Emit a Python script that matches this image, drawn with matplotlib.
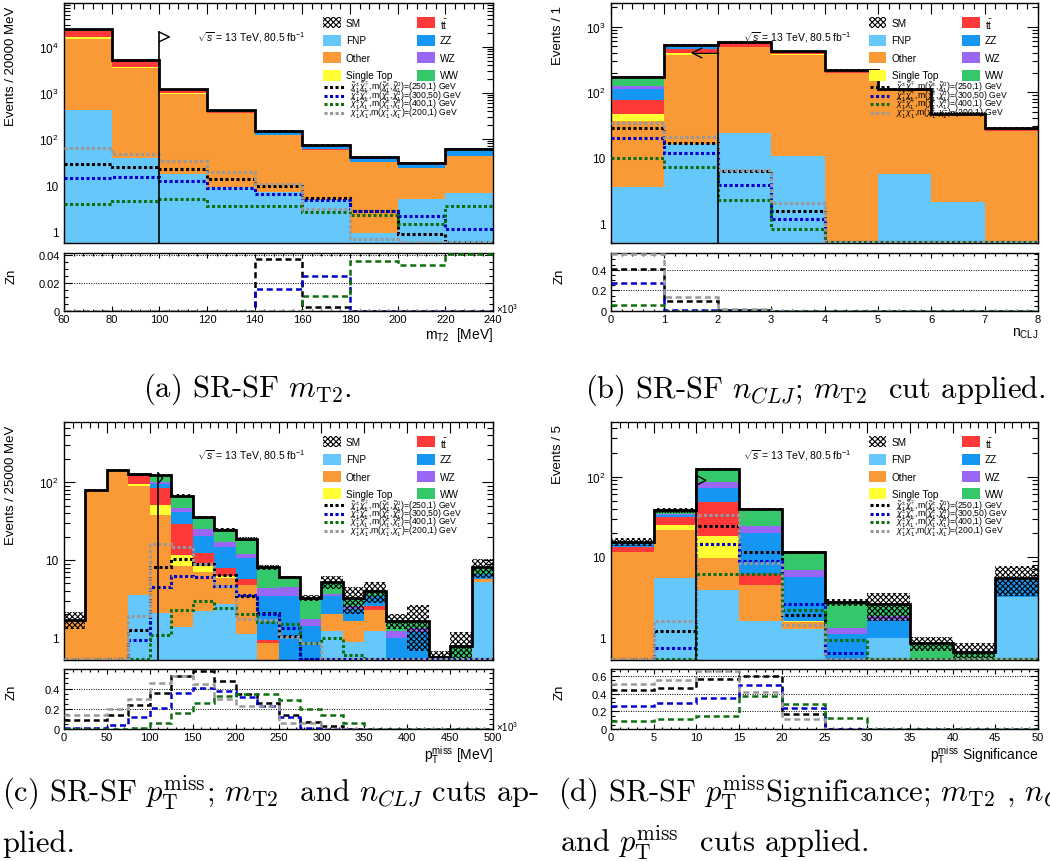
import numpy as np
import matplotlib
matplotlib.use('Agg')
import matplotlib.pyplot as plt
from matplotlib.patches import Rectangle
from matplotlib.lines import Line2D
from matplotlib.ticker import (MultipleLocator, LogLocator, FuncFormatter,
                               NullFormatter, AutoMinorLocator)

plt.rcParams['font.family'] = ['Liberation Sans', 'DejaVu Sans']
plt.rcParams['mathtext.fontset'] = 'custom'
plt.rcParams['mathtext.rm'] = 'Liberation Sans'
plt.rcParams['mathtext.it'] = 'Liberation Sans:italic'
plt.rcParams['mathtext.bf'] = 'Liberation Sans:bold'
plt.rcParams['hatch.linewidth'] = 0.8

# --- colori dei processi ---
C_FNP = '#66c8fa'
C_OTHER = '#f99a36'
C_ST = '#ffff33'
C_TT = '#ff3838'
C_ZZ = '#1496f2'
C_WZ = '#9a66f5'
C_WW = '#34c86a'
SIG_COLORS = ['#000000', '#0000cc', '#0f6e0f', '#999999']

# ================= (a) m_T2 =================
edges_a = np.arange(60, 241, 20)
fnp_a = [420, 38, 17.6, 9.0, 7.0, 4.8, 0.9, 5.0, 6.8]
other_a = [14580, 3460, 920, 360, 113, 54, 30, 18.4, 36]
st_a = [1200, 150, 40, 3, 0.5, 0, 0, 0, 0]
tt_a = [5800, 1450, 170, 15, 3, 1, 0.5, 0.2, 0]
zz_a = [300, 80, 20, 20, 18, 9, 5, 4.5, 11]
wz_a = [100, 30, 10, 5, 3, 2, 2.5, 1, 2]
ww_a = [1600, 100, 20, 10, 3, 2, 1.5, 1, 4]
err_a = [0.03, 0.03, 0.03, 0.03, 0.05, 0.05, 0.05, 0.05, 0.05]
sig250_a = [29, 24.6, 22, 13.7, 9.3, 5.3, 2.7, 0.86, 0]
sig300_a = [14.4, 14.9, 12.2, 8.7, 6.5, 4.8, 2.7, 2.15, 1.1]
sig400_a = [3.9, 4.5, 5.0, 3.5, 3.5, 2.6, 2.2, 1.42, 3.5]
sig200_a = [65, 48, 33, 19.2, 10.3, 3.0, 0.67, 0, 0]
zn250_a = [0, 0, 0, 0, 0.037, 0.003, 0, 0, 0]
zn300_a = [0, 0, 0, 0, 0.016, 0.025, 0, 0, 0]
zn400_a = [0, 0, 0, 0, 0, 0.011, 0.036, 0.033, 0.041]
zn200_a = [0, 0, 0, 0, 0, 0, 0, 0, 0]

# ================= (b) n_CLJ =================
edges_b = np.arange(0, 9, 1)
fnp_b = [3.6, 16.2, 23.5, 10.6, 0, 5.6, 2.1, 0]
other_b = [32.4, 359, 460, 364, 199, 101, 42.6, 26]
st_b = [11, 23, 6, 2, 0, 0, 0, 0]
tt_b = [30, 64, 70, 30, 10, 2, 0.6, 0.5]
zz_b = [34, 22, 5, 8, 5, 2, 2, 1.5]
wz_b = [14, 6, 2, 2, 0, 0, 0, 0]
ww_b = [46, 30, 20, 3, 2, 0, 0, 0]
err_b = [0.03, 0.03, 0.03, 0.03, 0.04, 0.04, 0.04, 0.04]
sig250_b = [28, 17, 6.3, 1.56, 0, 0, 0, 0]
sig300_b = [19.7, 12, 3.8, 1.16, 0, 0, 0, 0]
sig400_b = [10, 7.3, 2.27, 0.82, 0, 0, 0, 0]
sig200_b = [34.5, 21, 6.5, 2.06, 0, 0, 0, 0]
zn250_b = [0.41, 0.098, 0.01, 0, 0, 0, 0, 0]
zn300_b = [0.27, 0.01, 0, 0, 0, 0, 0, 0]
zn400_b = [0.059, 0, 0, 0, 0, 0, 0, 0]
zn200_b = [0.553, 0.14, 0.02, 0, 0, 0, 0, 0]

# ================= (c) pT miss =================
edges_c = np.arange(0, 501, 25)
fnp_c = [0, 0, 0, 3.56, 2.09, 1.38, 2.24, 2.73, 1.12, 0,
         0, 0, 1.24, 0.88, 1.24, 0, 0, 0, 0, 5.27]
other_c = [1.72, 79, 142, 84.4, 35.7, 7.07, 4.83, 3.07, 3.68, 0.86,
           0, 0, 0.79, 0.79, 1.06, 0, 0, 0, 0, 0.43]
st_c = [0, 0, 0, 6.2, 12.9, 3.15, 1.38, 0.4, 0, 0,
        0, 0, 0, 0, 0, 0, 0, 0, 0, 0]
tt_c = [0, 0, 0, 23.8, 32.3, 17.3, 3.85, 1.6, 0.9, 0.07,
        0, 0, 0, 0, 0.25, 0, 0, 0, 0, 0]
zz_c = [0, 0, 0, 3, 11.2, 11.9, 8.2, 6.8, 4.8, 2.5,
        3.49, 1.4, 1.4, 0.68, 0.88, 0.99, 1.2, 0, 0, 0.9]
wz_c = [0, 0, 0, 1, 6.8, 5.2, 4.5, 2.3, 1.4, 0.91,
        0.98, 0.35, 0.23, 0.2, 0, 0.25, 0.15, 0, 0, 0]
ww_c = [0, 0, 0, 4, 22, 20.8, 10.3, 7.6, 6.7, 3.72,
        1.53, 1.51, 1.54, 0.71, 0.61, 0.43, 0.32, 0.57, 0.78, 1.46]
err_c = [0.25, 0.04, 0.03, 0.04, 0.04, 0.05, 0.05, 0.05, 0.06, 0.08,
         0.05, 0.08, 0.19, 0.37, 0.30, 0.22, 0.59, 0.18, 0.54, 0.28]
sig250_c = [0, 0, 0, 1.27, 8.1, 10.3, 8.8, 6.5, 3.4, 2.1,
            1.07, 0, 0, 0, 0, 0, 0, 0, 0, 0]
sig300_c = [0, 0, 0, 0.94, 4.5, 6.2, 6.1, 4.6, 3.5, 2.0,
            1.33, 0, 0, 0, 0, 0, 0, 0, 0, 0]
sig400_c = [0, 0, 0, 0, 1.1, 2.28, 2.95, 2.4, 2.0, 1.6,
            1.51, 0.86, 1.0, 0.61, 0, 0, 0, 0, 0, 0]
sig200_c = [0, 0, 0, 1.93, 16, 14.6, 8.8, 4.6, 1.75, 1.7,
            1.02, 0.85, 0, 0, 0, 0, 0, 0, 0, 0]
zn250_c = [0.093, 0.093, 0.143, 0.233, 0.36, 0.52, 0.577, 0.477, 0.343, 0.253,
           0.143, 0.067, 0.027, 0, 0, 0, 0, 0, 0, 0]
zn300_c = [0.01, 0.01, 0.043, 0.12, 0.21, 0.36, 0.41, 0.377, 0.32, 0.227,
           0.12, 0.01, 0, 0, 0, 0, 0, 0, 0, 0]
zn400_c = [0, 0, 0, 0.01, 0.06, 0.16, 0.26, 0.327, 0.343, 0.343,
           0.287, 0.2, 0.143, 0.06, 0, 0, 0, 0, 0, 0]
zn200_c = [0.143, 0.143, 0.193, 0.30, 0.453, 0.527, 0.443, 0.30, 0.227, 0.227,
           0.06, 0.06, 0, 0, 0, 0, 0, 0, 0, 0]

# ================= (d) pT miss significance =================
edges_d = np.arange(0, 51, 5)
fnp_d = [0, 5.4, 3.87, 1.57, 1.27, 0, 0.97, 0, 0, 3.2]
other_d = [11.6, 16.5, 5.73, 2.9, 0.27, 0, 0, 0, 0, 0]
st_d = [0, 2.9, 8.6, 0, 0.05, 0, 0, 0, 0, 0]
tt_d = [1.8, 6.8, 30.2, 1.59, 0, 0, 0, 0, 0, 0]
zz_d = [1.2, 1.5, 23.9, 14.0, 4.1, 1.09, 0.67, 0, 0, 2.0]
wz_d = [0.3, 1.6, 13.7, 4.3, 1.2, 0.2, 0.2, 0, 0, 0]
ww_d = [0.6, 3.3, 40, 14.9, 4.5, 1.43, 0.73, 0.84, 0.66, 0.3]
err_d = [0.12, 0.08, 0.03, 0.03, 0.05, 0.10, 0.38, 0.20, 0.30, 0.40]
sig250_d = [0, 1.21, 24.2, 11.6, 1.89, 0, 0, 0, 0, 0]
sig300_d = [0, 0.74, 14.4, 8.96, 2.6, 0.63, 0, 0, 0, 0]
sig400_d = [0, 0, 6.07, 6.2, 2.19, 0.93, 0, 0, 0, 0]
sig200_d = [0, 1.6, 33, 8.5, 1.42, 0, 0, 0, 0, 0]
zn250_d = [0.435, 0.46, 0.56, 0.6, 0.165, 0, 0, 0, 0, 0]
zn300_d = [0.254, 0.29, 0.346, 0.5, 0.242, 0, 0, 0, 0, 0]
zn400_d = [0.088, 0.108, 0.146, 0.37, 0.28, 0.127, 0, 0, 0, 0]
zn200_d = [0.51, 0.55, 0.658, 0.415, 0.108, 0, 0, 0, 0, 0]

SIG_LABELS = [
    r'$\tilde{\chi}^{\pm}_{1}\tilde{\chi}^{\mp}_{1}$,m($\tilde{\chi}^{\pm}_{1}$,$\tilde{\chi}^{0}_{1}$)=(250,1) GeV',
    r'$\tilde{\chi}^{\pm}_{1}\tilde{\chi}^{\mp}_{1}$,m($\tilde{\chi}^{\pm}_{1}$,$\tilde{\chi}^{0}_{1}$)=(300,50) GeV',
    r'$\tilde{\chi}^{\pm}_{1}\tilde{\chi}^{\mp}_{1}$,m($\tilde{\chi}^{\pm}_{1}$,$\tilde{\chi}^{0}_{1}$)=(400,1) GeV',
    r'$\chi^{+}_{1}\chi^{-}_{1}$,m($\chi^{+}_{1}$,$\chi^{-}_{1}$)=(200,1) GeV',
]

W, H = 1050, 862
fig = plt.figure(figsize=(W / 100, H / 100), dpi=100)


def box(x0, y_top, x1, y_bot):
    # pixel box -> figure fraction
    return [x0 / W, 1 - y_bot / H, (x1 - x0) / W, (y_bot - y_top) / H]


def log_fmt(v, pos):
    e = int(round(np.log10(v)))
    if e == 0:
        return '1'
    if e == 1:
        return '10'
    return r'$10^{%d}$' % e


def legend(ax):
    rows = [0.917, 0.844, 0.771, 0.698]
    left = [('SM', None), ('FNP', C_FNP), ('Other', C_OTHER), ('Single Top', C_ST)]
    right = [(r'$\mathrm{t\bar{t}}$', C_TT), ('ZZ', C_ZZ), ('WZ', C_WZ), ('WW', C_WW)]
    for x0, col in ((0.604, left), (0.823, right)):
        for y, (lab, c) in zip(rows, col):
            if c is None:
                ax.add_patch(Rectangle((x0, y - 0.023), 0.041, 0.046, transform=ax.transAxes,
                                       facecolor='white', edgecolor='black', hatch='xxxxxx',
                                       lw=0, zorder=6))
            else:
                ax.add_patch(Rectangle((x0, y - 0.023), 0.041, 0.046, transform=ax.transAxes,
                                       facecolor=c, lw=0, zorder=6))
            ax.text(x0 + 0.053, y, lab, transform=ax.transAxes, fontsize=7.2,
                    va='center', ha='left', zorder=7)
    for y, c, lab in zip([0.650, 0.614, 0.579, 0.543], SIG_COLORS, SIG_LABELS):
        ax.add_line(Line2D([0.606, 0.652], [y, y], transform=ax.transAxes, color=c,
                           lw=2.2, ls=(0, (1, 0.8)), zorder=7))
        ax.text(0.667, y, lab, transform=ax.transAxes, fontsize=6.2, va='center',
                ha='left', zorder=7)
    ax.text(0.31, 0.862, r'$\sqrt{s}$ = 13 TeV, 80.5 fb$^{-1}$', transform=ax.transAxes,
            fontsize=7.5, va='center', ha='left', zorder=7)


def panel(pos_main, pos_ratio, edges, comps, err, sigs, zns, ylim, zlim, zstep,
          xmaj, xmin, xlabel, ylabel, x10=False):
    ax = fig.add_axes(pos_main)
    rax = fig.add_axes(pos_ratio)
    edges = np.asarray(edges, float)
    width = np.diff(edges)

    # fondo impilato
    bottom = np.zeros(len(width))
    for vals, col in comps:
        vals = np.asarray(vals, float)
        ax.bar(edges[:-1], vals, width, bottom=bottom, align='edge', color=col, lw=0, zorder=2)
        bottom = bottom + vals
    total = bottom
    err = np.asarray(err, float)
    ax.bar(edges[:-1], 2 * err * total, width, bottom=total * (1 - err), align='edge',
           fill=False, hatch='xxxxxx', edgecolor='black', lw=0, zorder=3)
    ax.stairs(total, edges, baseline=None, color='black', lw=2.0, zorder=4)

    # segnali
    for vals, c in zip(sigs, SIG_COLORS):
        v = np.clip(np.asarray(vals, float), ylim[0] * 1.04, None)
        ax.stairs(v, edges, baseline=None, color=c, lw=2.2, ls=(0, (1, 0.8)), zorder=5)

    ax.set_yscale('log')
    ax.set_xlim(edges[0], edges[-1])
    ax.set_ylim(*ylim)
    ax.yaxis.set_major_locator(LogLocator(base=10, numticks=12))
    ax.yaxis.set_minor_locator(LogLocator(base=10, subs=np.arange(2, 10), numticks=40))
    ax.yaxis.set_major_formatter(FuncFormatter(log_fmt))
    ax.yaxis.set_minor_formatter(NullFormatter())
    ax.xaxis.set_major_locator(MultipleLocator(xmaj))
    ax.xaxis.set_minor_locator(MultipleLocator(xmin))
    ax.tick_params(which='both', direction='in', top=True, right=True, labelbottom=False)
    ax.tick_params(which='major', length=8, width=0.8, labelsize=8.5, pad=4)
    ax.tick_params(which='minor', length=4, width=0.8)
    ax.set_ylabel(ylabel, fontsize=9.5, loc='top')
    ax.yaxis.set_label_coords(-0.11, 0.99)
    for s in ax.spines.values():
        s.set_linewidth(1.0)
    legend(ax)

    # pannello Zn
    for vals, c in zip(zns, SIG_COLORS):
        rax.stairs(np.asarray(vals, float), edges, baseline=None, color=c, lw=1.8,
                   ls=(0, (2.4, 1.5)), zorder=5)
    rax.set_xlim(edges[0], edges[-1])
    rax.set_ylim(*zlim)
    rax.yaxis.set_major_locator(MultipleLocator(zstep))
    rax.yaxis.set_minor_locator(AutoMinorLocator(4))
    rax.xaxis.set_major_locator(MultipleLocator(xmaj))
    rax.xaxis.set_minor_locator(MultipleLocator(xmin))
    rax.yaxis.set_major_formatter(FuncFormatter(lambda v, p: '0' if abs(v) < 1e-9 else ('%g' % v)))
    for t in np.arange(zstep, zlim[1], zstep):
        rax.axhline(t, color='black', lw=0.7, ls=(0, (1, 1.5)), zorder=1)
    rax.tick_params(which='both', direction='in', top=True, right=True)
    rax.tick_params(axis='x', which='major', length=3.5, width=0.8, labelsize=8, pad=2)
    rax.tick_params(axis='x', which='minor', length=1.8, width=0.8)
    rax.tick_params(axis='y', which='major', length=6, width=0.8, labelsize=8, pad=3)
    rax.tick_params(axis='y', which='minor', length=3, width=0.8)
    rax.set_xlabel(xlabel, fontsize=10, loc='right', labelpad=1)
    rax.set_ylabel('Zn', fontsize=9.5)
    rax.yaxis.set_label_coords(-0.107, 0.62)
    for s in rax.spines.values():
        s.set_linewidth(1.0)
    if x10:
        rax.text(1.008, 0.05, r'$\times10^{3}$', transform=rax.transAxes, fontsize=7,
                 ha='left', va='center')
    return ax, rax


def cut_arrow(ax, x, y_bot, y_top, tip_x, tip_y, y_low):
    ax.plot([x, x], [y_bot, y_top], color='black', lw=1.2, zorder=8)
    ax.plot([x, tip_x, x], [y_top, tip_y, y_low], color='black', lw=1.0, zorder=8)


def stack(fnp, other, st, tt, zz, wz, ww):
    return [(fnp, C_FNP), (other, C_OTHER), (st, C_ST), (tt, C_TT),
            (zz, C_ZZ), (wz, C_WZ), (ww, C_WW)]


# (a)
ax_a, _ = panel(box(64, 4, 493, 244), box(64, 254, 493, 312), edges_a,
                stack(fnp_a, other_a, st_a, tt_a, zz_a, wz_a, ww_a), err_a,
                [sig250_a, sig300_a, sig400_a, sig200_a],
                [zn250_a, zn300_a, zn400_a, zn200_a],
                (0.55, 9e4), (0, 0.0415), 0.02, 20, 4,
                r'm$_{\mathrm{T2}}$  [MeV]', 'Events / 20000 MeV', x10=True)
cut_arrow(ax_a, 100, 0.55, 2.1e4, 104.2, 1.65e4, 1.3e4)

# (b)
ax_b, _ = panel(box(611, 4, 1038, 244), box(611, 254, 1038, 312), edges_b,
                stack(fnp_b, other_b, st_b, tt_b, zz_b, wz_b, ww_b), err_b,
                [sig250_b, sig300_b, sig400_b, sig200_b],
                [zn250_b, zn300_b, zn400_b, zn200_b],
                (0.5, 2300), (0, 0.563), 0.2, 1, 0.2,
                r'n$_{\mathrm{CLJ}}$', 'Events / 1')
ax_b.plot([2, 2], [0.5, 550], color='black', lw=1.2, zorder=8)
ax_b.plot([2, 1.52], [400, 400], color='black', lw=1.0, zorder=8)
ax_b.plot([1.7, 1.52, 1.7], [470, 400, 335], color='black', lw=1.0, zorder=8)

# (c)
ax_c, _ = panel(box(64, 423, 493, 661), box(64, 670, 493, 730), edges_c,
                stack(fnp_c, other_c, st_c, tt_c, zz_c, wz_c, ww_c), err_c,
                [sig250_c, sig300_c, sig400_c, sig200_c],
                [zn250_c, zn300_c, zn400_c, zn200_c],
                (0.52, 590), (0, 0.593), 0.2, 50, 10,
                r'p$_{\mathrm{T}}^{\mathrm{miss}}$ [MeV]', 'Events / 25000 MeV', x10=True)
cut_arrow(ax_c, 110, 0.52, 130, 115, 112, 97)

# (d)
ax_d, _ = panel(box(611, 423, 1038, 661), box(611, 670, 1038, 730), edges_d,
                stack(fnp_d, other_d, st_d, tt_d, zz_d, wz_d, ww_d), err_d,
                [sig250_d, sig300_d, sig400_d, sig200_d],
                [zn250_d, zn300_d, zn400_d, zn200_d],
                (0.52, 480), (0, 0.677), 0.2, 5, 1,
                r'p$_{\mathrm{T}}^{\mathrm{miss}}$ Significance', 'Events / 5')
cut_arrow(ax_d, 10, 0.52, 104, 11.1, 90, 78)

# didascalie
cap = dict(fontsize=22, family='cmr10', math_fontfamily='cm', va='baseline')
fig.text(247 / W, 1 - 397 / H, r'(a) SR-SF $m_{\mathrm{T2}}$.', ha='center', **cap)
fig.text(815 / W, 1 - 398 / H, r'(b) SR-SF $n_{CLJ}$; $m_{\mathrm{T2}}$  cut applied.',
         ha='center', **cap)
fig.text(2 / W, 1 - 801 / H,
         r'(c) SR-SF $p_{\mathrm{T}}^{\mathrm{miss}}$; $m_{\mathrm{T2}}$  and $n_{CLJ}$ cuts ap-',
         ha='left', **cap)
fig.text(2 / W, 1 - 852 / H, 'plied.', ha='left', **cap)
fig.text(558 / W, 1 - 801 / H,
         r'(d) SR-SF $p_{\mathrm{T}}^{\mathrm{miss}}$Significance; $m_{\mathrm{T2}}$ , $n_{CLJ}$',
         ha='left', **cap)
fig.text(560 / W, 1 - 852 / H, r'and $p_{\mathrm{T}}^{\mathrm{miss}}$  cuts applied.',
         ha='left', **cap)

fig.savefig('out.png', dpi=100)
